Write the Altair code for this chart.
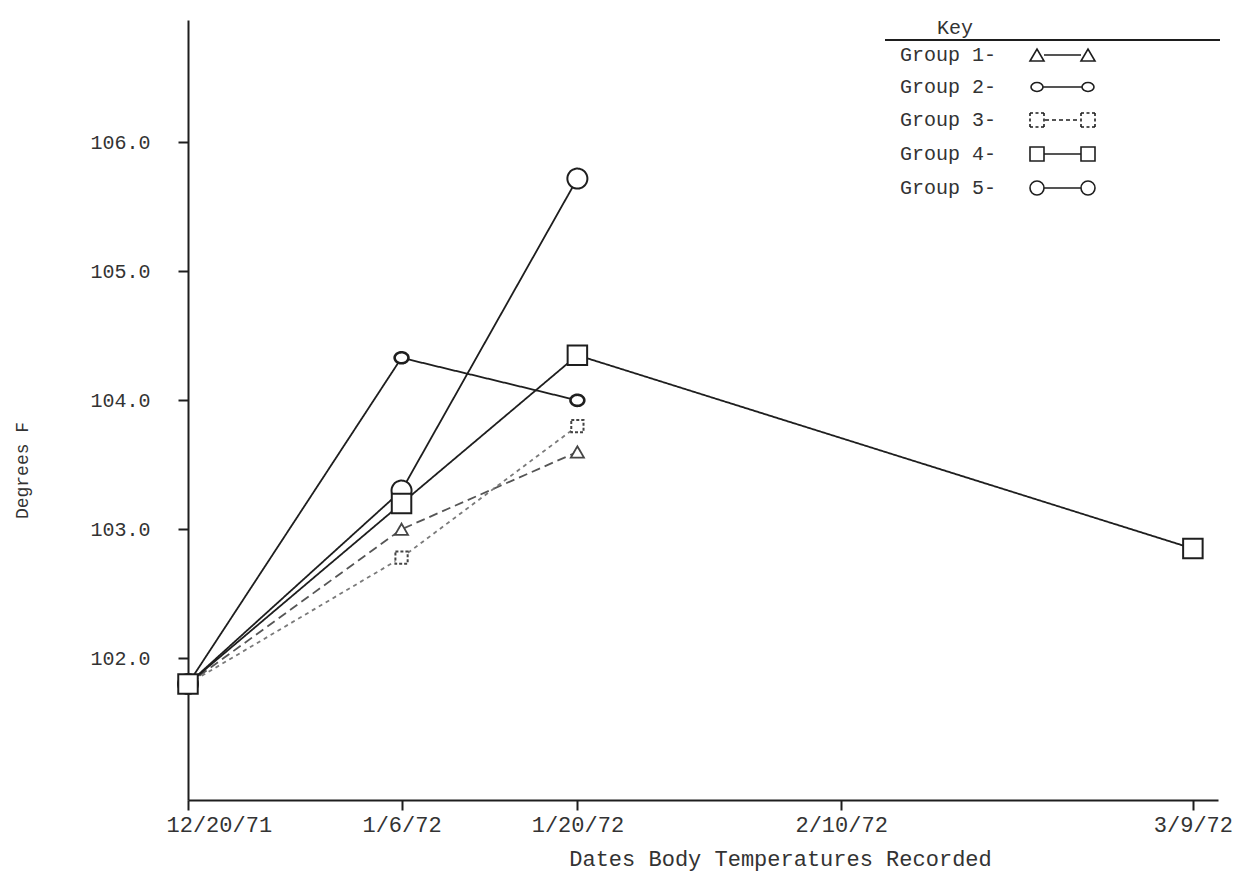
import altair as alt
import pandas as pd

# ---------------- data ----------------
groups = ["Group 1", "Group 2", "Group 3", "Group 4", "Group 5"]
key_labels = ["Group 1-", "Group 2-", "Group 3-", "Group 4-", "Group 5-"]

tick_dates = ["1971-12-20", "1972-01-06", "1972-01-20", "1972-02-10", "1972-03-09"]
y_ticks = [102.0, 103.0, 104.0, 105.0, 106.0]

g1_dates = ["1971-12-20", "1972-01-06", "1972-01-20"]
g1_temps = [101.8, 103.0, 103.6]
g2_dates = ["1971-12-20", "1972-01-06", "1972-01-20"]
g2_temps = [101.8, 104.33, 104.0]
g3_dates = ["1971-12-20", "1972-01-06", "1972-01-20"]
g3_temps = [101.8, 102.78, 103.8]
g4_dates = ["1971-12-20", "1972-01-06", "1972-01-20", "1972-03-09"]
g4_temps = [101.8, 103.2, 104.35, 102.85]
g5_dates = ["1971-12-20", "1972-01-06", "1972-01-20"]
g5_temps = [101.8, 103.3, 105.72]

rows = []
for g, k, ds, ts in zip(groups, key_labels,
                        [g1_dates, g2_dates, g3_dates, g4_dates, g5_dates],
                        [g1_temps, g2_temps, g3_temps, g4_temps, g5_temps]):
    for d, t in zip(ds, ts):
        rows.append({"Group": g, "Key": k, "Date": d, "Temp": t})
df = pd.DataFrame(rows)

# ---------------- styles ----------------
FONT = "Liberation Mono"
TXT = "#333333"
INK = "#1e1e1e"

line_colors = ["#555555", "#1e1e1e", "#7a7a7a", "#1e1e1e", "#1e1e1e"]
line_dashes = [[9, 5], [1, 0], [4, 4], [1, 0], [1, 0]]

OVAL = "M1,0A1,0.8 0 1,1 -1,0A1,0.8 0 1,1 1,0Z"
point_styles = {
    "Group 1": dict(shape="triangle-up", size=170, strokeWidth=1.8, color="#444444", strokeDash=[1, 0]),
    "Group 2": dict(shape=OVAL, size=190, strokeWidth=2.6, color=INK, strokeDash=[1, 0]),
    "Group 3": dict(shape="square", size=150, strokeWidth=2.0, color="#444444", strokeDash=[3, 2]),
    "Group 5": dict(shape="circle", size=400, strokeWidth=2.0, color=INK, strokeDash=[1, 0]),
    "Group 4": dict(shape="square", size=380, strokeWidth=2.0, color=INK, strokeDash=[1, 0]),
}

# legend symbols: marker - line - marker, drawn to the right of the label
R = 5.0  # sqrt(symbolSize)/2


def P(v):
    return f"{v / R:.3f}"


def tri(cx, h=7):
    return f"M{P(cx - h)},{P(h - 1)}L{P(cx)},{P(-h + 1)}L{P(cx + h)},{P(h - 1)}Z"


def oval(cx, rx=6, ry=4.5):
    return (f"M{P(cx + rx)},0A{P(rx)},{P(ry)} 0 1,1 {P(cx - rx)},0"
            f"A{P(rx)},{P(ry)} 0 1,1 {P(cx + rx)},0Z")


def sq(cx, h=7):
    return f"M{P(cx - h)},{P(-h)}H{P(cx + h)}V{P(h)}H{P(cx - h)}Z"


def dotsq(cx, h=7):
    s = ""
    for a, b in [(-h, -h + 3), (-1.5, 1.5), (h - 3, h)]:
        s += f"M{P(cx + a)},{P(-h)}H{P(cx + b)}M{P(cx + a)},{P(h)}H{P(cx + b)}"
        s += f"M{P(cx - h)},{P(a)}V{P(b)}M{P(cx + h)},{P(a)}V{P(b)}"
    return s


def seg(x1, x2):
    return f"M{P(x1)},0H{P(x2)}"


def dseg(x1, x2):
    s, x = "", x1
    while x < x2:
        s += f"M{P(x)},0H{P(min(x + 4, x2))}"
        x += 7
    return s


L, Rr = 147, 198
key_paths = [
    tri(L) + seg(L + 7, Rr - 7) + tri(Rr),
    oval(L) + seg(L + 6, Rr - 6) + oval(Rr),
    dotsq(L) + dseg(L + 8, Rr - 8) + dotsq(Rr),
    sq(L) + seg(L + 7, Rr - 7) + sq(Rr),
    oval(L, 7, 7) + seg(L + 7, Rr - 7) + oval(Rr, 7, 7),
]


def utc(d):
    yy, mm, dd = (int(p) for p in d.split("-"))
    return alt.DateTime(year=yy, month=mm, date=dd, utc=True)


x_scale = alt.Scale(type="utc", nice=False, domain=[utc("1971-12-20"), utc("1972-03-11")])
x_vals = [utc(d) for d in tick_dates]

x_enc = alt.X(
    "Date:T", scale=x_scale,
    axis=alt.Axis(values=x_vals, format="%-m/%-d/%y", title="Dates Body Temperatures Recorded",
                  titleX=592, titleY=58, titleBaseline="middle", titleAlign="center",
                  titleFontSize=22, labelFontSize=22, labelPadding=4,
                  labelFlush=True, labelFlushOffset=22),
)
y_enc = alt.Y(
    "Temp:Q", scale=alt.Scale(domain=[100.9, 106.95], nice=False, zero=False),
    axis=alt.Axis(values=y_ticks, format=".1f", title="Degrees F",
                  titleX=-166, titleY=450, titleAngle=270, titleAlign="center",
                  titleBaseline="middle", titleFontSize=18, labelPadding=28),
)

color_enc = alt.Color("Group:N", scale=alt.Scale(domain=groups, range=line_colors), legend=None)
dash_enc = alt.StrokeDash("Group:N", scale=alt.Scale(domain=groups, range=line_dashes), legend=None)

lines = alt.Chart().mark_line(strokeWidth=1.8).encode(
    x=x_enc, y=y_enc, detail="Group:N", color=color_enc, strokeDash=dash_enc,
    order="Date:T",
)

point_layers = []
for g, st in point_styles.items():
    point_layers.append(
        alt.Chart().transform_filter(alt.datum.Group == g).mark_point(
            filled=False, fill="white", fillOpacity=1, opacity=1, **st
        ).encode(x=x_enc, y=y_enc)
    )

key_layer = alt.Chart().mark_point(filled=False, color=INK).encode(
    shape=alt.Shape(
        "Key:N",
        scale=alt.Scale(domain=key_labels, range=key_paths),
        legend=alt.Legend(
            title=None, orient="none", legendX=692, legendY=25, padding=0,
            labelFont=FONT, labelFontSize=20, labelColor=TXT, labelOffset=0,
            symbolSize=100, symbolStrokeWidth=1.6, symbolStrokeColor=INK,
            symbolFillColor="transparent", symbolOpacity=1, rowPadding=12,
        ),
    )
).transform_filter(alt.datum.Temp < 0)

key_box = alt.Data(values=[{"t": "Key"}])
key_title = alt.Chart(key_box).mark_text(
    font=FONT, fontSize=20, color=TXT, align="center", baseline="middle"
).encode(text="t:N", x=alt.value(767), y=alt.value(8))

underline = alt.Chart(key_box).mark_rule(color=INK, strokeWidth=2).encode(
    x=alt.value(697), x2=alt.value(1032), y=alt.value(20)
)

chart = alt.layer(lines, *point_layers, key_layer, key_title, underline, data=df).properties(
    width=1030, height=780,
    autosize=alt.AutoSizeParams(type="none"),
    padding={"left": 180, "top": 12, "right": 18, "bottom": 73},
    background="white",
).configure_view(stroke=None).configure_axis(
    grid=False, domainColor=INK, domainWidth=2, tickColor=INK, tickWidth=2, tickSize=10,
    labelFont=FONT, labelFontSize=20, labelColor=TXT,
    titleFont=FONT, titleFontWeight="normal", titleColor=TXT,
)

chart.save("out.html", embed_options={"renderer": "svg", "actions": False})
